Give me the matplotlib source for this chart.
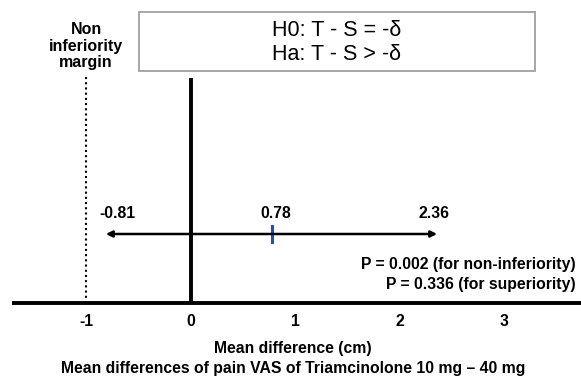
import matplotlib.pyplot as plt
from matplotlib.patches import Rectangle

# data
margin = -1
ci_low = -0.81
ci_mean = 0.78
ci_high = 2.36
tick_vals = [-1, 0, 1, 2, 3]
p_texts = ["P = 0.002 (for non-inferiority)", "P = 0.336 (for superiority)"]
hyp_texts = ["H0: T - S = -\u03b4", "Ha: T - S > -\u03b4"]

plt.rcParams['font.family'] = ['Liberation Sans', 'DejaVu Sans']

fig = plt.figure(figsize=(5.81, 3.76), dpi=100)
ax = fig.add_axes([0, 0, 1, 1])
x0, unit = 190.5, 104.5
px = lambda p: (p - x0) / unit  # pixel column -> data x
ax.set_xlim(px(0), px(581))
ax.set_ylim(376, 0)
ax.axis('off')

fs = 11.3

# main axis line
ax.plot([px(12), px(581)], [303, 303], c="k", lw=2.8, solid_capstyle='butt')
for t in tick_vals:
    ax.text(t, 321, str(t), ha='center', va='center', fontsize=fs, fontweight='bold')

# zero line and margin line
ax.plot([0, 0], [78, 303], c="k", lw=2.8, solid_capstyle='butt')
ax.plot([margin, margin], [77, 303], c="k", lw=1.5, ls=(0, (1, 1.5)))

ax.text(margin, 46, "Non\ninferiority\nmargin", ha='center', va='center',
        fontsize=11.5, fontweight='bold', linespacing=1.15)

# hypothesis box
ax.add_patch(Rectangle((px(139), 12), px(535) - px(139), 59, fc='white', ec='#a0a0a0', lw=1.3))
ax.text(px(272), 30, hyp_texts[0], ha='left', va='center', fontsize=15.5)
ax.text(px(272), 55, hyp_texts[1], ha='left', va='center', fontsize=15.5)

# confidence interval
ax.annotate('', xy=(ci_low, 234), xytext=(ci_high, 234),
            arrowprops=dict(arrowstyle='<|-|>', lw=1.8, color='k', mutation_scale=9,
                            shrinkA=0, shrinkB=0))
ax.plot([ci_mean, ci_mean], [226, 242], c="#1f4fbf", lw=2.2)
for v, dx in zip([ci_low, ci_mean, ci_high], [8, 3, -2]):
    ax.annotate("%.2f" % v, (v, 214), xytext=(dx, 0), textcoords='offset points',
                ha='center', va='center', fontsize=fs, fontweight='bold')

# p values
ax.text(px(576), 265, p_texts[0], ha='right', va='center', fontsize=fs, fontweight='bold')
ax.text(px(576), 284, p_texts[1], ha='right', va='center', fontsize=fs, fontweight='bold')

# x labels
ax.text(px(293), 348, "Mean difference (cm)", ha='center', va='center', fontsize=fs, fontweight='bold')
ax.text(px(293), 368, "Mean differences of pain VAS of Triamcinolone 10 mg \u2013 40 mg",
        ha='center', va='center', fontsize=fs, fontweight='bold')

fig.savefig("out.png", dpi=100)
